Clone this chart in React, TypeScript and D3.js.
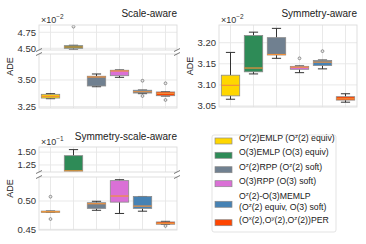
import * as d3 from 'd3';

// box statistics (values in units of the axis multiplier)
const scaleLo = [3.325, 4.478, 3.437, 3.525, 3.372, 3.350];
const scaleQ1 = [3.331, 4.500, 3.444, 3.540, 3.378, 3.353];
const scaleMed = [3.347, 4.520, 3.528, 3.584, 3.390, 3.375];
const scaleQ3 = [3.366, 4.541, 3.535, 3.591, 3.404, 3.388];
const scaleHi = [3.372, 4.547, 3.556, 3.594, 3.406, 3.390];
const scaleOut = [[], [4.838], [], [], [3.493, 3.350], [3.469, 3.313]];

const symLo = [3.066, 3.126, 3.163, 3.129, 3.138, 3.059];
const symQ1 = [3.074, 3.131, 3.171, 3.137, 3.146, 3.064];
const symMed = [3.099, 3.140, 3.172, 3.142, 3.154, 3.067];
const symQ3 = [3.123, 3.217, 3.212, 3.144, 3.158, 3.072];
const symHi = [3.177, 3.225, 3.234, 3.145, 3.159, 3.079];
const symOut = [[], [], [], [3.163], [3.180], []];

const bothLo = [0.4797, 1.115, 0.4836, 0.478, 0.482, 0.4588];
const bothQ1 = [0.4800, 1.125, 0.487, 0.498, 0.487, 0.4590];
const bothMed = [0.4810, 1.136, 0.4952, 0.5088, 0.491, 0.4605];
const bothQ3 = [0.4822, 1.431, 0.497, 0.536, 0.508, 0.4630];
const bothHi = [0.4823, 1.549, 0.4995, 0.5376, 0.508, 0.4641];
const bothOut = [[0.5076, 0.4682], [], [], [], [], [0.4559]];

const legendLabels = [
  ['O^z(2)EMLP (O^z(2) equiv)'],
  ['O(3)EMLP (O(3) equiv)'],
  ['O^z(2)RPP (O^z(2) soft)'],
  ['O(3)RPP (O(3) soft)'],
  ['O^z(2)-O(3)MEMLP', '(O^z(2) equiv, O(3) soft)'],
  ['(O^x(2),O^y(2),O^z(2))PER'],
];
const colors = ['#ffd700', '#2e8b57', '#708090', '#da70d6', '#4682b4', '#ff4500'];

const FONT = 'Liberation Sans, Arial, sans-serif';
const MED = '#f0903c';
const WHISK = '#333';

type Seg = { y0: number; y1: number; dom: [number, number]; ticks: number[] };
type Stats = { lo: number[]; q1: number[]; med: number[]; q3: number[]; hi: number[]; out: number[][] };

// text with ^x superscripts
const Sup = ({ s, size }: { s: string; size: number }) => {
  const parts = s.split(/\^(.)/);
  return (
    <>
      {parts.map((p, i) =>
        i % 2 === 1 ? (
          <tspan key={i} dy={-size * 0.35} fontSize={size * 0.7}>{p}</tspan>
        ) : (
          <tspan key={i} dy={i > 0 ? size * 0.35 : 0}>{p}</tspan>
        )
      )}
    </>
  );
};

const Panel = ({ id, x0, x1, segs, st, title, titleY, exp, labelX }: {
  id: string; x0: number; x1: number; segs: Seg[]; st: Stats;
  title: string; titleY: number; exp: string; labelX: number;
}) => {
  const idx = d3.range(st.med.length);
  const x = d3.scalePoint<number>().domain(idx).range([x0, x1]).padding(0.5);
  const bw = x.step() * 0.8;
  const cw = bw * 0.5;
  const fmt = d3.format('.2f');
  const top = segs[0].y0;
  const bottom = segs[segs.length - 1].y1;
  return (
    <g>
      <text x={x1} y={titleY} textAnchor="end" fontSize={10} fill="#222" fontFamily={FONT}>{title}</text>
      <text x={x0 + 2} y={top - 2} fontSize={9} fill="#333" fontFamily={FONT}>
        ×10<tspan dy={-4} fontSize={6.5}>{exp}</tspan>
      </text>
      <text transform={`translate(${labelX},${(top + bottom) / 2}) rotate(-90)`} textAnchor="middle"
        fontSize={9} fill="#222" fontFamily={FONT}>ADE</text>
      {segs.map((sg, k) => {
        const y = d3.scaleLinear().domain(sg.dom).range([sg.y1, sg.y0]);
        const cid = `${id}-clip-${k}`;
        return (
          <g key={k}>
            <clipPath id={cid}><rect x={x0} y={sg.y0} width={x1 - x0} height={sg.y1 - sg.y0} /></clipPath>
            <rect x={x0} y={sg.y0} width={x1 - x0} height={sg.y1 - sg.y0} fill="#fff" />
            {idx.map(i => (
              <line key={i} x1={x(i)} x2={x(i)} y1={sg.y0} y2={sg.y1} stroke="#e6e6e6" strokeWidth={0.9} />
            ))}
            {sg.ticks.map(t => (
              <g key={t}>
                <line x1={x0} x2={x1} y1={y(t)} y2={y(t)} stroke="#e6e6e6" strokeWidth={0.9} />
                <text x={x0 - 3} y={y(t)} dy="0.35em" textAnchor="end" fontSize={9.5} fill="#333" fontFamily={FONT}>{fmt(t)}</text>
              </g>
            ))}
            <g clipPath={`url(#${cid})`}>
              {idx.map(i => {
                const cx = x(i)!;
                return (
                  <g key={i}>
                    <line x1={cx} x2={cx} y1={y(st.hi[i])} y2={y(st.q3[i])} stroke={WHISK} strokeWidth={1} />
                    <line x1={cx} x2={cx} y1={y(st.lo[i])} y2={y(st.q1[i])} stroke={WHISK} strokeWidth={1} />
                    <line x1={cx - cw / 2} x2={cx + cw / 2} y1={y(st.hi[i])} y2={y(st.hi[i])} stroke={WHISK} strokeWidth={1} />
                    <line x1={cx - cw / 2} x2={cx + cw / 2} y1={y(st.lo[i])} y2={y(st.lo[i])} stroke={WHISK} strokeWidth={1} />
                    <rect x={cx - bw / 2} y={y(st.q3[i])} width={bw} height={Math.max(y(st.q1[i]) - y(st.q3[i]), 1)}
                      fill={colors[i]} stroke="#8a8a8a" strokeWidth={0.8} />
                    <line x1={cx - bw / 2} x2={cx + bw / 2} y1={y(st.med[i])} y2={y(st.med[i])} stroke={MED} strokeWidth={1.2} />
                    {st.out[i].map((o, j) => (
                      <circle key={j} cx={cx} cy={y(o)} r={1.4} fill="none" stroke="#666" strokeWidth={0.7} />
                    ))}
                  </g>
                );
              })}
            </g>
            <rect x={x0} y={sg.y0} width={x1 - x0} height={sg.y1 - sg.y0} fill="none" stroke="#dcdcdc" strokeWidth={0.9} />
          </g>
        );
      })}
      {segs.length > 1 && [x0, x1].map(bx => (
        <g key={bx} stroke="#555" strokeWidth={0.8}>
          <line x1={bx - 3} x2={bx + 3} y1={segs[0].y1 + 1.5} y2={segs[0].y1 - 1.5} />
          <line x1={bx - 3} x2={bx + 3} y1={segs[1].y0 + 1.5} y2={segs[1].y0 - 1.5} />
        </g>
      ))}
    </g>
  );
};

const Legend = ({ x, y }: { x: number; y: number }) => {
  const rows = [6, 20.3, 34.7, 48.7, 69.3, 87.7];
  return (
    <g>
      <rect x={x} y={y} width={124} height={97} rx={2} fill="#fff" stroke="#dcdcdc" strokeWidth={0.8} />
      {legendLabels.map((lines, i) => (
        <g key={i}>
          <rect x={x + 3} y={y + rows[i] - 3} width={17} height={6} fill={colors[i]} stroke="#8a8a8a" strokeWidth={0.7} />
          {lines.map((ln, j) => (
            <text key={j} x={x + 27} y={y + rows[i] + (j - (lines.length - 1) / 2) * 10.5} dy="0.35em"
              fontSize={8.7} fill="#222" fontFamily={FONT}>
              <Sup s={ln} size={8.7} />
            </text>
          ))}
        </g>
      ))}
    </g>
  );
};

export default function App() {
  return (
    <svg width={366} height={244} style={{ position: 'absolute', left: 0, top: 0, background: '#fff' }}>
      <Panel id="sa" x0={39} x1={177} title="Scale-aware" titleY={17} exp="−2" labelX={13}
        segs={[
          { y0: 25, y1: 50, dom: [4.473, 4.864], ticks: [4.50, 4.75] },
          { y0: 54, y1: 108, dom: [3.238, 3.743], ticks: [3.25, 3.50] },
        ]}
        st={{ lo: scaleLo, q1: scaleQ1, med: scaleMed, q3: scaleQ3, hi: scaleHi, out: scaleOut }} />
      <Panel id="sy" x0={219} x1={357} title="Symmetry-aware" titleY={17} exp="−2" labelX={193}
        segs={[{ y0: 25, y1: 107, dom: [3.0476, 3.242], ticks: [3.05, 3.10, 3.15, 3.20] }]}
        st={{ lo: symLo, q1: symQ1, med: symMed, q3: symQ3, hi: symHi, out: symOut }} />
      <Panel id="ss" x0={39} x1={177} title="Symmetry-scale-aware" titleY={140} exp="−1" labelX={13}
        segs={[
          { y0: 147, y1: 172, dom: [1.113, 1.60], ticks: [1.25, 1.50] },
          { y0: 177, y1: 230, dom: [0.4488, 0.5424], ticks: [0.45, 0.50] },
        ]}
        st={{ lo: bothLo, q1: bothQ1, med: bothMed, q3: bothQ3, hi: bothHi, out: bothOut }} />
      <Legend x={212} y={135} />
    </svg>
  );
}
